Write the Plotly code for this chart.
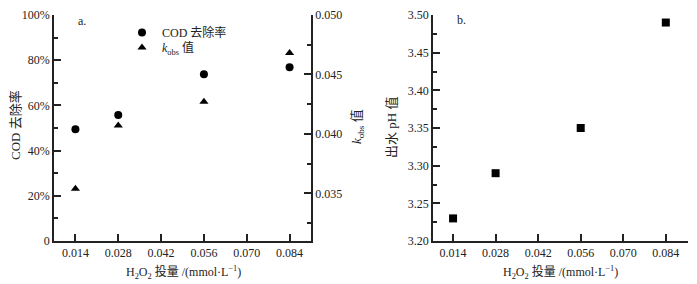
import plotly.graph_objects as go

dose = [0.014, 0.028, 0.056, 0.084]
cod_removal = [49.4, 55.8, 73.8, 76.9]
kobs = [0.0354, 0.0407, 0.0427, 0.0468]
ph = [3.23, 3.29, 3.35, 3.49]

x_ticks = [0.014, 0.028, 0.042, 0.056, 0.070, 0.084]
x_ticklabels = ["0.014", "0.028", "0.042", "0.056", "0.070", "0.084"]
cod_ticks = [0, 20, 40, 60, 80, 100]
cod_ticklabels = ["0", "20%", "40%", "60%", "80%", "100%"]
k_ticks = [0.035, 0.040, 0.045, 0.050]
k_ticklabels = ["0.035", "0.040", "0.045", "0.050"]
ph_ticks = [3.20, 3.25, 3.30, 3.35, 3.40, 3.45, 3.50]
ph_ticklabels = ["3.20", "3.25", "3.30", "3.35", "3.40", "3.45", "3.50"]

SERIF = "Liberation Serif, Noto Sans CJK SC, serif"
FONT = dict(family=SERIF, size=12, color="#222")

fig = go.Figure()
fig.add_trace(go.Scatter(x=dose, y=cod_removal, mode="markers", name="COD 去除率",
                         marker=dict(symbol="circle", size=8, color="black"),
                         xaxis="x", yaxis="y", legend="legend"))
fig.add_trace(go.Scatter(x=dose, y=kobs, mode="markers", name="<i>k</i><sub>obs</sub> 值",
                         marker=dict(symbol="triangle-up", size=8, color="black"),
                         xaxis="x", yaxis="y2", legend="legend2"))
fig.add_trace(go.Scatter(x=dose, y=ph, mode="markers", showlegend=False,
                         marker=dict(symbol="square", size=8, color="black"),
                         xaxis="x2", yaxis="y3"))

ydom = [43 / 284, 269 / 284]
axis_common = dict(showline=True, linecolor="#222", linewidth=1.5, ticks="inside",
                   ticklen=7, tickwidth=1.5, tickcolor="#222", showgrid=False,
                   zeroline=False, tickfont=FONT, automargin=False)

legend_common = dict(xanchor="left", yanchor="top", bgcolor="rgba(0,0,0,0)",
                     font=dict(family=SERIF, size=12, color="#222"), itemwidth=30)

fig.update_layout(
    width=697, height=284,
    margin=dict(l=0, r=0, t=0, b=0),
    paper_bgcolor="white", plot_bgcolor="white",
    font=FONT,
    xaxis=dict(domain=[54 / 697, 311 / 697], range=[0.007, 0.091], anchor="y",
               tickvals=x_ticks, ticktext=x_ticklabels, **axis_common),
    yaxis=dict(domain=ydom, range=[0, 100], anchor="x",
               tickvals=cod_ticks, ticktext=cod_ticklabels,
               minor=dict(dtick=10, ticks="inside", ticklen=4, tickwidth=1.5, tickcolor="#222"),
               **axis_common),
    yaxis2=dict(range=[0.031, 0.050], overlaying="y", side="right", anchor="x",
                tickvals=k_ticks, ticktext=k_ticklabels,
                minor=dict(dtick=0.0025, tick0=0.0, ticks="inside", ticklen=4, tickwidth=1.5, tickcolor="#222"),
                **axis_common),
    xaxis2=dict(domain=[433 / 697, 688 / 697], range=[0.0074, 0.0913], anchor="y3",
                tickvals=x_ticks, ticktext=x_ticklabels, **axis_common),
    yaxis3=dict(domain=ydom, range=[3.20, 3.50], anchor="x2",
                tickvals=ph_ticks, ticktext=ph_ticklabels,
                minor=dict(dtick=0.025, tick0=3.2, ticks="inside", ticklen=4, tickwidth=1.5, tickcolor="#222"),
                **axis_common),
    legend=dict(x=122 / 697, y=1 - 18 / 284, **legend_common),
    legend2=dict(x=122 / 697, y=1 - 33 / 284, **legend_common),
    showlegend=True,
)

ann = [
    dict(text="a.", x=82 / 697, y=1 - 21 / 284),
    dict(text="b.", x=461 / 697, y=1 - 20 / 284),
    dict(text="H<sub>2</sub>O<sub>2</sub> 投量 /(mmol·L<sup>−1</sup>)", x=183 / 697, y=1 - 272 / 284, size=12),
    dict(text="H<sub>2</sub>O<sub>2</sub> 投量 /(mmol·L<sup>−1</sup>)", x=560 / 697, y=1 - 272 / 284, size=12),
    dict(text="COD 去除率", x=16 / 697, y=1 - 125 / 284, angle=-90, size=13),
    dict(text="<i>k</i><sub>obs</sub> 值", x=358 / 697, y=1 - 127 / 284, angle=-90, size=13),
    dict(text="出水 pH 值", x=391 / 697, y=1 - 128 / 284, angle=-90, size=13),
]
for a in ann:
    fig.add_annotation(text=a["text"], x=a["x"], y=a["y"], xref="paper", yref="paper",
                       xanchor="center", yanchor="middle", showarrow=False,
                       textangle=a.get("angle", 0),
                       font=dict(family=SERIF, size=a.get("size", 12), color="#222"))

fig.write_html("out.html", config={"displayModeBar": False},
               post_script="document.body.style.margin='0';document.body.style.overflow='hidden';")
